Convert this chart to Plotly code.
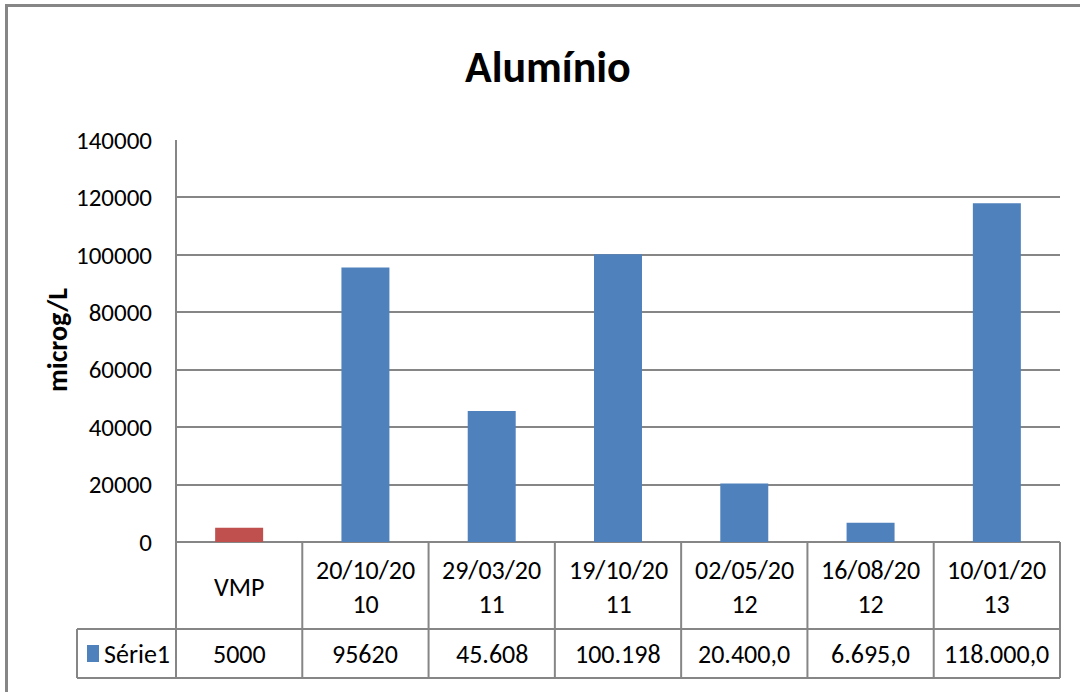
import plotly.graph_objects as go

categories = ["VMP", "20/10/2010", "29/03/2011", "19/10/2011", "02/05/2012", "16/08/2012", "10/01/2013"]
cat_labels = ["VMP", "20/10/20<br>10", "29/03/20<br>11", "19/10/20<br>11", "02/05/20<br>12", "16/08/20<br>12", "10/01/20<br>13"]
values = [5000, 95620, 45608, 100198, 20400, 6695, 118000]
value_labels = ["5000", "95620", "45.608", "100.198", "20.400,0", "6.695,0", "118.000,0"]
bar_colors = ["#C0504D", "#4F81BD", "#4F81BD", "#4F81BD", "#4F81BD", "#4F81BD", "#4F81BD"]
series_name = "Série1"
y_ticks = [0, 20000, 40000, 60000, 80000, 100000, 120000, 140000]

W, H = 1080, 692
FONT = "Carlito, 'DejaVu Sans Condensed', sans-serif"
GRID = "#868686"

def px(x):
    return x / W

def py(y):
    return 1 - y / H

x_left, x_right = 176, 1060
y_top, y_zero = 140, 542
row1_bottom, row2_bottom = 629, 678
table_left = 77

fig = go.Figure()
fig.add_trace(go.Bar(
    x=categories, y=values, marker_color=bar_colors, width=0.38,
    marker_line_width=0, name=series_name, showlegend=False,
))

shapes = []
line = dict(color=GRID, width=2)
shapes.append(dict(type="line", xref="paper", yref="paper", x0=px(5), x1=1, y0=py(5.5), y1=py(5.5), line=dict(color=GRID, width=3)))
shapes.append(dict(type="line", xref="paper", yref="paper", x0=px(6.5), x1=px(6.5), y0=py(5), y1=0, line=dict(color=GRID, width=3)))
shapes.append(dict(type="line", xref="paper", yref="paper", x0=px(table_left), x1=px(x_right), y0=py(row1_bottom), y1=py(row1_bottom), line=line))
shapes.append(dict(type="line", xref="paper", yref="paper", x0=px(table_left), x1=px(x_right), y0=py(row2_bottom), y1=py(row2_bottom), line=line))
shapes.append(dict(type="line", xref="paper", yref="paper", x0=px(table_left), x1=px(table_left), y0=py(row1_bottom), y1=py(row2_bottom), line=line))
n = len(categories)
for i in range(n + 1):
    xv = x_left + (x_right - x_left) * i / n
    y_start = y_top if i == 0 else y_zero
    shapes.append(dict(type="line", xref="paper", yref="paper", x0=px(xv), x1=px(xv), y0=py(y_start), y1=py(row2_bottom), line=line))
shapes.append(dict(type="rect", xref="paper", yref="paper", x0=px(87), x1=px(99), y0=py(645), y1=py(662), fillcolor="#4F81BD", line=dict(width=0)))

annotations = []
annotations.append(dict(text="<b>Alumínio</b>", xref="paper", yref="paper", x=px(548), y=py(67), showarrow=False,
                        font=dict(family=FONT, size=44, color="#000000"), xanchor="center", yanchor="middle"))
annotations.append(dict(text="<b>microg/L</b>", xref="paper", yref="paper", x=px(57), y=py(340), showarrow=False, textangle=-90,
                        font=dict(family=FONT, size=28, color="#000000"), xanchor="center", yanchor="middle"))
for c, lab in zip(categories, cat_labels):
    annotations.append(dict(text=lab, xref="x", yref="paper", x=c, y=py(587), showarrow=False,
                            font=dict(family=FONT, size=26, color="#000000"), xanchor="center", yanchor="middle"))
for c, lab in zip(categories, value_labels):
    annotations.append(dict(text=lab, xref="x", yref="paper", x=c, y=py(654), showarrow=False,
                            font=dict(family=FONT, size=26, color="#000000"), xanchor="center", yanchor="middle"))
annotations.append(dict(text=series_name, xref="paper", yref="paper", x=px(102), y=py(654), showarrow=False,
                        font=dict(family=FONT, size=26, color="#000000"), xanchor="left", yanchor="middle"))

fig.update_layout(
    width=W, height=H,
    margin=dict(l=0, r=0, t=0, b=0, pad=0, autoexpand=False),
    paper_bgcolor="white", plot_bgcolor="white",
    shapes=shapes, annotations=annotations,
    xaxis=dict(domain=[px(x_left), px(x_right)], showticklabels=False, showgrid=False, zeroline=False,
               showline=False, ticks="", fixedrange=True, automargin=False),
    yaxis=dict(domain=[py(y_zero), py(y_top)], range=[0, 140000], tickvals=y_ticks,
               ticktext=[str(v) for v in y_ticks], showgrid=True, gridcolor=GRID, gridwidth=2,
               zeroline=True, zerolinecolor=GRID, zerolinewidth=2, showline=False,
               ticks="", ticklabelstandoff=23, automargin=False,
               tickfont=dict(family=FONT, size=25, color="#000000"), fixedrange=True),
    showlegend=False,
)

fig.write_html("out.html", config={"displayModeBar": False})
